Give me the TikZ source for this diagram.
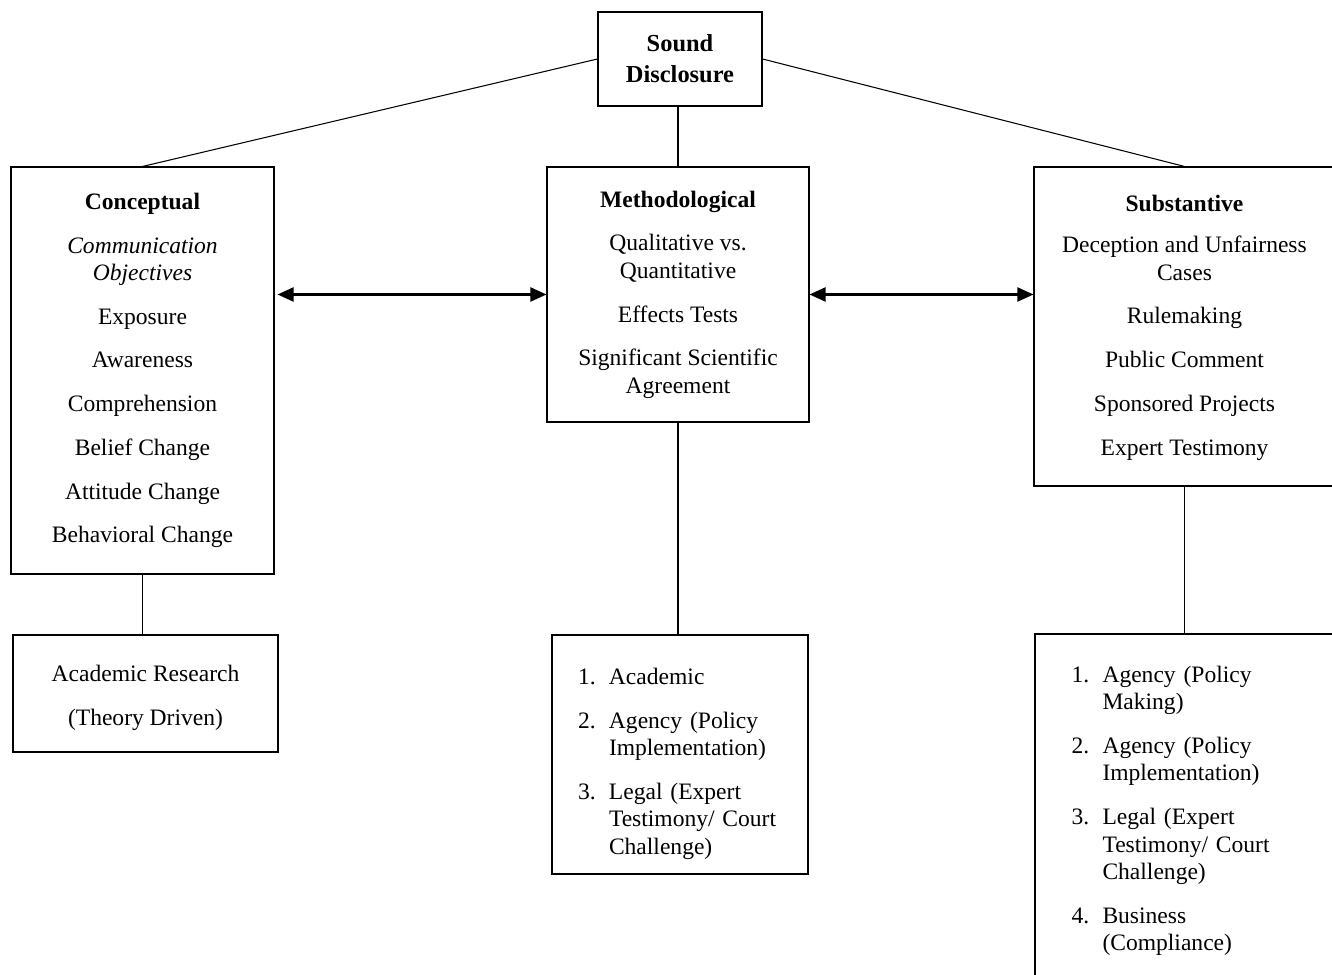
\documentclass[tikz,border=0pt]{standalone}
\usepackage{fontspec}
\setmainfont{Liberation Serif}
\usetikzlibrary{arrows.meta}
\begin{document}
\begin{tikzpicture}[
    font=\fontsize{13.4pt}{15.6pt}\selectfont,
    box/.style={draw, line width=0.6pt, align=center, inner sep=0pt, minimum width=#1},
    listbox/.style={draw, line width=0.6pt, align=left, inner ysep=0pt, inner xsep=#1},
    link/.style={line width=0.6pt},
    twoway/.style={{Triangle[length=0.32cm,width=0.28cm]}-{Triangle[length=0.32cm,width=0.28cm]}, line width=1.2pt}
]
    \useasboundingbox (0,0) rectangle (26.64,19.48);
    \clip (0,0) rectangle (26.64,19.48);

    % Top
    \node[box=3.28cm, minimum height=1.88cm, font=\fontsize{13.9pt}{17.6pt}\selectfont] (sound) at (13.60,18.30) {\textbf{Sound}\\\textbf{Disclosure}};

    % Three kinds
    \node[box=5.26cm, minimum height=8.14cm] (concept) at (2.85,12.07) {\textbf{Conceptual}\\[9.3pt]
        \textit{Communication}\\\textit{Objectives}\\[9.3pt]
        Exposure\\[9.3pt] Awareness\\[9.3pt] Comprehension\\[9.3pt]
        Belief Change\\[9.3pt] Attitude Change\\[9.3pt] Behavioral Change};
    \node[box=5.24cm, minimum height=5.10cm] (method) at (13.56,13.59) {\textbf{Methodological}\\[9.3pt]
        Qualitative vs.\\Quantitative\\[9.3pt]
        Effects Tests\\[9.3pt]
        Significant Scientific\\Agreement};
    \node[box=6.02cm, minimum height=6.38cm] (subst) at (23.69,12.95) {\raisebox{-0.05cm}[\height][\depth]{\textbf{Substantive}}\\[9.3pt]
        Deception and Unfairness\\Cases\\[9.3pt]
        Rulemaking\\[9.3pt] Public Comment\\[9.3pt]
        Sponsored Projects\\[9.3pt] Expert Testimony};

    % Users
    \node[box=5.30cm, minimum height=2.34cm] (acad) at (2.91,5.61) {\raisebox{-0.08cm}[\height][\depth]{Academic Research}\\[9.3pt]\raisebox{-0.08cm}[\height][\depth]{(Theory Driven)}};
    \node[listbox=0.52cm, text width=4.08cm, minimum width=5.12cm, minimum height=4.78cm] (mlist) at (13.60,4.39) {%
        \raisebox{-0.19cm}[\height][\depth]{\begin{tabular}{@{}p{0.62cm}@{}l@{}}
        1. & Academic\\[9.3pt]
        2. & Agency (Policy\\ & Implementation)\\[9.3pt]
        3. & Legal (Expert\\ & Testimony/ Court\\ & Challenge)
        \end{tabular}}};
    \node[listbox=0.72cm, text width=4.56cm, minimum width=6.02cm, minimum height=6.88cm] (slist) at (23.71,3.36) {%
        \raisebox{-0.1cm}[\height][\depth]{\begin{tabular}{@{}p{0.62cm}@{}l@{}}
        1. & Agency (Policy\\ & Making)\\[9.3pt]
        2. & Agency (Policy\\ & Implementation)\\[9.3pt]
        3. & Legal (Expert\\ & Testimony/ Court\\ & Challenge)\\[9.3pt]
        4. & Business\\ & (Compliance)
        \end{tabular}}};

    % Lines
    \draw[link] (sound.west) -- (concept.north);
    \draw[link] (method.north |- sound.south) -- (method.north);
    \draw[link] (sound.east) -- (subst.north);
    \draw[link] (concept.south) -- (concept.south |- acad.north);
    \draw[link] (method.south) -- (method.south |- mlist.north);
    \draw[link] (subst.south) -- (subst.south |- slist.north);

    % Arrows
    \draw[twoway, shorten <=0.06cm] (method.west -| concept.east) -- (method.west);
    \draw[twoway] (method.east) -- (method.east -| subst.west);
\end{tikzpicture}
\end{document}
